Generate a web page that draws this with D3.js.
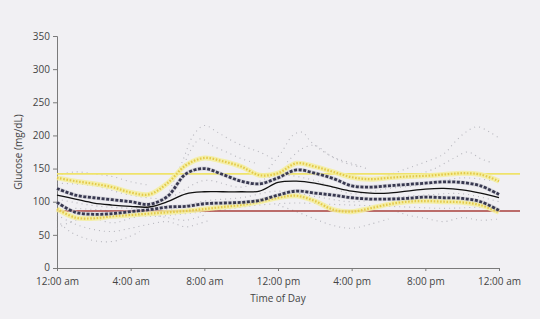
<!DOCTYPE html>
<html lang="en">
<head>
<meta charset="utf-8">
<title>glucose profile</title>
<script src="https://d3js.org/d3.v7.min.js"></script>
<style>
  body { margin: 0; background: #f1f0f3; }
  svg { display: block; font-family: "Open Sans", sans-serif; }
</style>
</head>
<body>
<svg id="chart" width="540" height="319"></svg>
<script>
// hours of the day, 0 = midnight
var hours = d3.range(0, 25)

// percentile curves (mg/dL)
var p90 = [136,131,127,122,114,111,128,155,166,161,153,140,143,158,153,145,137,134,136,138,139,141,143,141,131]
var p75 = [120,110,106,103,100,96,108,142,150,141,131,127,136,148,143,135,124,122,124,126,128,130,129,124,111]
var p50 = [110,104,98,95,93,92,100,112,115,115,115,116,129,131,128,122,116,113,113,116,119,120,118,113,106]
var p25 = [99,84,81,82,85,88,92,93,97,98,99,102,110,116,113,110,106,104,104,105,107,106,105,100,87]
var p10 = [89,76,75,78,80,82,84,86,89,92,95,100,106,109,101,88,85,90,96,100,101,100,99,95,84]

// target lines
var upperTarget = 142
var lowerTarget = 86

// individual readings traces (hour, mg/dL), the faint gray dots
var traces = [
  [[6,110],[6.8,160],[7.4,200],[8,215],[8.7,205],[9.5,192],[10.3,182],[11,175],[11.7,165]],
  [[6.5,120],[7.2,175],[7.8,195],[8.4,185],[9.2,175],[10,165],[10.8,158]],
  [[11.5,150],[12.2,175],[12.8,200],[13.3,205],[13.8,190],[14.5,175],[15.2,165],[16,158],[16.8,150]],
  [[12.5,160],[13.3,180],[14,185],[14.8,170],[15.5,160],[16.5,152]],
  [[18,140],[19,150],[20,160],[21,172],[21.6,190],[22.2,205],[22.8,213],[23.5,205],[24,196]],
  [[19.5,140],[20.5,150],[21.5,165],[22.3,175],[23,165],[23.7,158]],
  [[0,72],[0.7,55],[1.5,45],[2.3,40],[3,40],[3.8,46],[4.5,55]],
  [[0,80],[1,66],[2,58],[3,55],[4,60],[5,66],[6,70],[7,62],[7.6,66],[8.3,72]],
  [[0,60],[1,72],[2,75],[3,68],[4,75],[5,80],[6,76],[7,72],[8,80]],
  [[12,95],[13,85],[14,74],[15,64],[16,60],[17,66],[18,74]],
  [[18.5,85],[19,80],[20,75],[21,70],[22,76],[23,72],[24,74]],
  [[0,140],[1,145],[2,142],[3,138],[4,130],[5,125]],
  [[0,128],[2,124],[4,110],[6,106],[8,132],[10,122],[12,140],[14,132],[16,112],[18,120],[20,126],[22,136],[24,130]],
  [[0,104],[2,94],[4,90],[6,88],[8,101],[10,106],[12,116],[14,108],[16,100],[18,106],[20,110],[22,112],[24,100]],
  [[1,90],[3,86],[5,78],[7,82],[9,88],[11,95],[13,98],[15,96],[17,94],[19,92],[21,90],[23,92]]
]

var yTicks = [0,50,100,150,200,250,300,350]
var xTicks = [0,4,8,12,16,20,24]
var xTickLabels = ["12:00 am","4:00 am","8:00 am","12:00 pm","4:00 pm","8:00 pm","12:00 am"]

var svg = d3.select("#chart")
var x = d3.scaleLinear().domain([0, 24]).range([57, 499])
var y = d3.scaleLinear().domain([0, 350]).range([268, 36])

// axes
var yAxis = svg.append("g")
  .attr("transform", "translate(57,0)")
  .call(d3.axisLeft(y).tickValues(yTicks).tickSize(4).tickPadding(3))
var xAxis = svg.append("g")
  .attr("transform", "translate(0,268)")
  .call(d3.axisBottom(x).tickValues(xTicks).tickSize(3).tickPadding(7)
    .tickFormat(function(d, i) { return xTickLabels[i] }))

svg.selectAll(".domain, .tick line").attr("stroke", "#7a7a7a")
svg.selectAll(".tick text").attr("fill", "#444").style("font-size", "10px")
  .style("font-family", "'Open Sans', sans-serif")
// lift the "0" a touch so it clears the first time label
yAxis.selectAll(".tick text").filter(function(d) { return d === 0 }).attr("dy", "0.2em")

svg.append("text")
  .attr("transform", "translate(22,152) rotate(-90)")
  .attr("text-anchor", "middle")
  .attr("fill", "#444").style("font-size", "10px")
  .text("Glucose (mg/dL)")

svg.append("text")
  .attr("x", 278).attr("y", 302)
  .attr("text-anchor", "middle")
  .attr("fill", "#444").style("font-size", "10px")
  .text("Time of Day")

// gray reading dots
var traceLine = d3.line()
  .x(function(d) { return x(d[0]) })
  .y(function(d) { return y(d[1]) })
  .curve(d3.curveCatmullRom)

svg.append("g").selectAll("path")
  .data(traces)
  .enter()
  .append("path")
  .attr("d", traceLine)
  .attr("fill", "none")
  .attr("stroke", "#8f8f99")
  .attr("stroke-width", 1.1)
  .attr("stroke-dasharray", "1 4")
  .attr("opacity", 0.6)

// target lines
svg.append("line")
  .attr("x1", x(0)).attr("x2", 520)
  .attr("y1", y(upperTarget)).attr("y2", y(upperTarget))
  .attr("stroke", "#efe36a").attr("stroke-width", 1.6)
svg.append("line")
  .attr("x1", x(0)).attr("x2", 520)
  .attr("y1", y(lowerTarget)).attr("y2", y(lowerTarget))
  .attr("stroke", "#a8403c").attr("stroke-width", 1.3)

var line = d3.line()
  .x(function(d, i) { return x(hours[i]) })
  .y(function(d) { return y(d) })
  .curve(d3.curveCatmullRom)

// 10th / 90th percentile: pale yellow band with dotted centre
;[p90, p10].forEach(function(s) {
  svg.append("path").attr("d", line(s))
    .attr("fill", "none").attr("stroke", "#f4ee9c")
    .attr("stroke-width", 5).attr("opacity", 0.85)
  svg.append("path").attr("d", line(s))
    .attr("fill", "none").attr("stroke", "#e4c94a")
    .attr("stroke-width", 2.2).attr("stroke-dasharray", "1.6 1.6")
})

// 25th / 75th percentile: dark dashes
;[p75, p25].forEach(function(s) {
  svg.append("path").attr("d", line(s))
    .attr("fill", "none").attr("stroke", "#c9c9d2")
    .attr("stroke-width", 4).attr("opacity", 0.6)
  svg.append("path").attr("d", line(s))
    .attr("fill", "none").attr("stroke", "#383850")
    .attr("stroke-width", 2.8).attr("stroke-dasharray", "3 1.6")
})

// median
svg.append("path").attr("d", line(p50))
  .attr("fill", "none").attr("stroke", "#111")
  .attr("stroke-width", 1.3)
</script>
</body>
</html>
